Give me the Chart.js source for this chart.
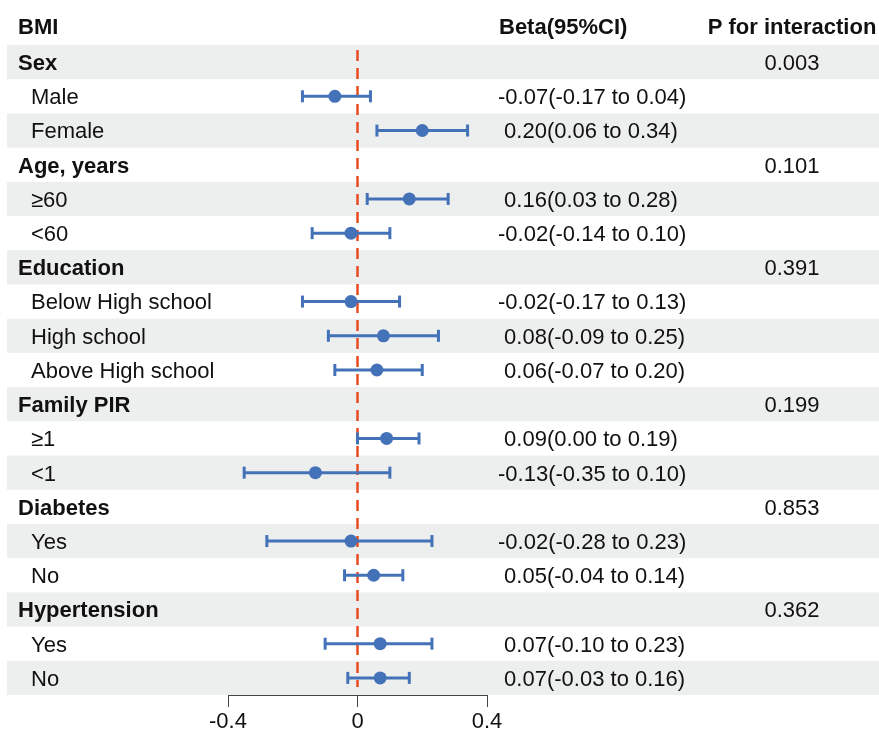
<!DOCTYPE html>
<html>
<head>
<meta charset="utf-8">
<script src="https://cdn.jsdelivr.net/npm/chart.js@4.4.1/dist/chart.umd.min.js"></script>
<style>
    html, body { margin: 0; padding: 0; background: #fff; }
</style>
</head>
<body>
<canvas id="forestChart" width="879" height="731"></canvas>
<script>
// Filas del forest plot (sin la fila de cabecera)
var rowLabels = ['Sex', 'Male', 'Female', 'Age, years', '≥60', '<60', 'Education', 'Below High school',
    'High school', 'Above High school', 'Family PIR', '≥1', '<1', 'Diabetes', 'Yes', 'No',
    'Hypertension', 'Yes', 'No'];
var isGroup = [true, false, false, true, false, false, true, false, false, false, true, false, false,
    true, false, false, true, false, false];
var beta  = [null, -0.07, 0.20, null, 0.16, -0.02, null, -0.02, 0.08, 0.06, null, 0.09, -0.13, null, -0.02, 0.05, null, 0.07, 0.07];
var lower = [null, -0.17, 0.06, null, 0.03, -0.14, null, -0.17, -0.09, -0.07, null, 0.00, -0.35, null, -0.28, -0.04, null, -0.10, -0.03];
var upper = [null, 0.04, 0.34, null, 0.28, 0.10, null, 0.13, 0.25, 0.20, null, 0.19, 0.10, null, 0.23, 0.14, null, 0.23, 0.16];
var pInteraction = ['0.003', null, null, '0.101', null, null, '0.391', null, null, null, '0.199', null, null,
    '0.853', null, null, '0.362', null, null];
var xTicks = [-0.4, 0, 0.4];
var headers = ['BMI', 'Beta(95%CI)', 'P for interaction'];

var blue = '#4372b8';
var fontName = '"Liberation Sans", Arial, sans-serif';
var fontSize = 22;

// Construimos los datos de puntos, intervalos y extremos
var pointData = [];
var capData = [];
var ciDatasets = [];
beta.forEach(function (b, i) {
    if (b === null) return;
    var y = i + 1;
    pointData.push({ x: b, y: y });
    capData.push({ x: lower[i], y: y });
    capData.push({ x: upper[i], y: y });
    ciDatasets.push({
        label: 'CI ' + rowLabels[i],
        data: [{ x: lower[i], y: y }, { x: upper[i], y: y }],
        showLine: true,
        pointRadius: 0,
        borderColor: blue,
        borderWidth: 3,
        tension: 0
    });
});

function fmt(v) {
    return v.toFixed(2);
}

// Plugin para el fondo, la linea de referencia y los textos de la tabla
var tablePlugin = {
    id: 'forestTable',
    beforeDraw: function (chart) {
        var ctx = chart.ctx;
        var ys = chart.scales.y;
        ctx.save();
        ctx.fillStyle = '#fff';
        ctx.fillRect(0, 0, chart.width, chart.height);
        ctx.fillStyle = '#edefee';
        for (var r = 1; r <= rowLabels.length; r += 2) {
            var top = ys.getPixelForValue(r - 0.5);
            var bottom = ys.getPixelForValue(r + 0.5);
            ctx.fillRect(7, top, chart.width - 7, bottom - top);
        }
        ctx.restore();
    },
    beforeDatasetsDraw: function (chart) {
        var ctx = chart.ctx;
        var x0 = chart.scales.x.getPixelForValue(0);
        var area = chart.chartArea;
        ctx.save();
        ctx.strokeStyle = '#e94b22';
        ctx.lineWidth = 2.5;
        ctx.setLineDash([11, 7]);
        ctx.beginPath();
        ctx.moveTo(x0, area.top + 5);
        ctx.lineTo(x0, area.bottom - 8);
        ctx.stroke();
        ctx.restore();
    },
    afterDraw: function (chart) {
        var ctx = chart.ctx;
        var ys = chart.scales.y;
        var shift = fontSize * 0.36;
        ctx.save();
        ctx.fillStyle = '#111';
        ctx.textBaseline = 'alphabetic';

        // Cabecera
        var hy = ys.getPixelForValue(0) - 2 + shift;
        ctx.font = 'bold ' + fontSize + 'px ' + fontName;
        ctx.textAlign = 'left';
        ctx.fillText(headers[0], 18, hy);
        ctx.fillText(headers[1], 499, hy);
        ctx.textAlign = 'center';
        ctx.fillText(headers[2], 792, hy);

        rowLabels.forEach(function (label, i) {
            var y = ys.getPixelForValue(i + 1) + shift;
            ctx.textAlign = 'left';
            if (isGroup[i]) {
                ctx.font = 'bold ' + fontSize + 'px ' + fontName;
                ctx.fillText(label, 18, y);
            } else {
                ctx.font = fontSize + 'px ' + fontName;
                ctx.fillText(label, 31, y);
            }
            ctx.font = fontSize + 'px ' + fontName;
            if (beta[i] !== null) {
                var txt = fmt(beta[i]) + '(' + fmt(lower[i]) + ' to ' + fmt(upper[i]) + ')';
                var off = beta[i] < 0 ? 0 : ctx.measureText(' ').width;
                ctx.fillText(txt, 498 + off, y);
            }
            if (pInteraction[i] !== null) {
                ctx.textAlign = 'center';
                ctx.fillText(pInteraction[i], 792, y);
            }
        });
        ctx.restore();
    }
};

var forestChart = new Chart(document.getElementById('forestChart'), {
    type: 'scatter',
    data: {
        datasets: [
            {
                label: 'Beta',
                data: pointData,
                backgroundColor: blue,
                borderColor: blue,
                pointRadius: 6.5,
                pointHoverRadius: 6.5,
                borderWidth: 0
            },
            {
                label: 'Caps',
                data: capData,
                pointStyle: 'line',
                rotation: 90,
                pointRadius: 6,
                borderColor: blue,
                borderWidth: 3
            }
        ].concat(ciDatasets)
    },
    options: {
        responsive: false,
        animation: false,
        devicePixelRatio: 1,
        layout: {
            padding: { left: 228, right: 392, top: 45, bottom: 0 }
        },
        plugins: {
            legend: { display: false },
            tooltip: { enabled: false }
        },
        scales: {
            x: {
                type: 'linear',
                min: -0.4,
                max: 0.4,
                afterBuildTicks: function (scale) {
                    scale.ticks = xTicks.map(function (v) { return { value: v }; });
                },
                afterFit: function (scale) {
                    scale.height = 36;
                },
                ticks: {
                    color: '#111',
                    padding: 2,
                    maxRotation: 0,
                    font: { family: fontName, size: fontSize },
                    callback: function (value) {
                        return value === 0 ? '0' : value.toFixed(1);
                    }
                },
                grid: {
                    drawOnChartArea: false,
                    drawTicks: true,
                    tickLength: 12,
                    color: '#444',
                    lineWidth: 1
                },
                border: { display: true, color: '#444', width: 1 }
            },
            y: {
                type: 'linear',
                reverse: true,
                min: 0.5,
                max: rowLabels.length + 0.5,
                display: false
            }
        }
    },
    plugins: [tablePlugin]
});
</script>
</body>
</html>
